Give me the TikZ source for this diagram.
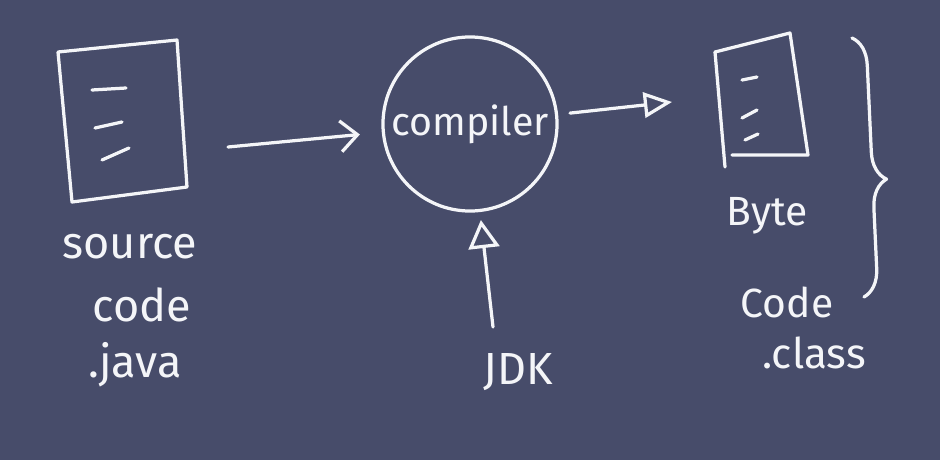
\documentclass[tikz,border=0pt]{standalone}
\usepackage{fontspec}
\setmainfont{Fira Sans}
\usepackage{tikz}
\usetikzlibrary{arrows.meta, decorations.pathreplacing}
\definecolor{boardslate}{HTML}{474C6A}
\definecolor{chalkwhite}{HTML}{F4F5F8}

\begin{document}
\begin{tikzpicture}[x=0.025cm, y=-0.025cm,
  chalk/.style={chalkwhite, line width=2.3pt, line cap=round, line join=round},
  scrawl/.style={chalkwhite, anchor=base, inner sep=0pt, font=\fontsize{#1}{#1}\selectfont}]
  % Board background
  \fill[boardslate] (0,0) rectangle (940,460);

  % Source file sheet
  \draw[chalk] (58,52) -- (177,40) -- (187,187) -- (72,202) -- cycle;
  \draw[chalk] (92,90) -- (126,88);
  \draw[chalk] (95,128) -- (122,122);
  \draw[chalk] (102,160) -- (129,148);
  \coordinate (srcout) at (228,147);

  \node[scrawl=32] (srcword) at (130,258) {source};
  \node[scrawl=32] (srccode) at (142,321) {code};
  \node[scrawl=32] (srcext) at (135,377) {.java};

  % Compiler
  \node[chalk, draw, circle, minimum size=4.35cm, inner sep=0pt,
        font=\fontsize{28}{28}\selectfont] (compiler) at (470,124) {compiler};

  % JDK feeding the compiler
  \node[scrawl=32] (jdk) at (518,384) {JDK};
  \coordinate (jdktail) at (493,327);

  % Byte code sheet
  \draw[chalk] (715,52) -- (790,33) -- (808,155) -- (732,155);
  \draw[chalk] (715,52) -- (725,167);
  \draw[chalk] (742,80) -- (757,77);
  \draw[chalk] (742,118) -- (757,110);
  \draw[chalk] (745,140) -- (758,134);
  \coordinate (classin) at (672,102);

  \node[scrawl=29] (bcword) at (767,225) {Byte};
  \node[scrawl=29] (bccode) at (787,317) {Code};
  \node[scrawl=30] (bcext) at (814,368) {.class};

  % Brace round the byte code
  \draw[chalk, decorate, decoration={brace, amplitude=0.7cm, aspect=0.55}] (852,38) -- (864,297);

  % Arrows
  \draw[chalk, -{Straight Barb[length=12pt, width=22pt]}, shorten >=0.55cm] (srcout) -- (compiler);
  \draw[chalk, -{Triangle[open, length=20pt, width=18pt]}, shorten <=0.3cm] (compiler) -- (classin);
  \draw[chalk, -{Triangle[open, length=20pt, width=22pt]}, shorten >=0.2cm] (jdktail) -- (compiler);
\end{tikzpicture}
\end{document}
